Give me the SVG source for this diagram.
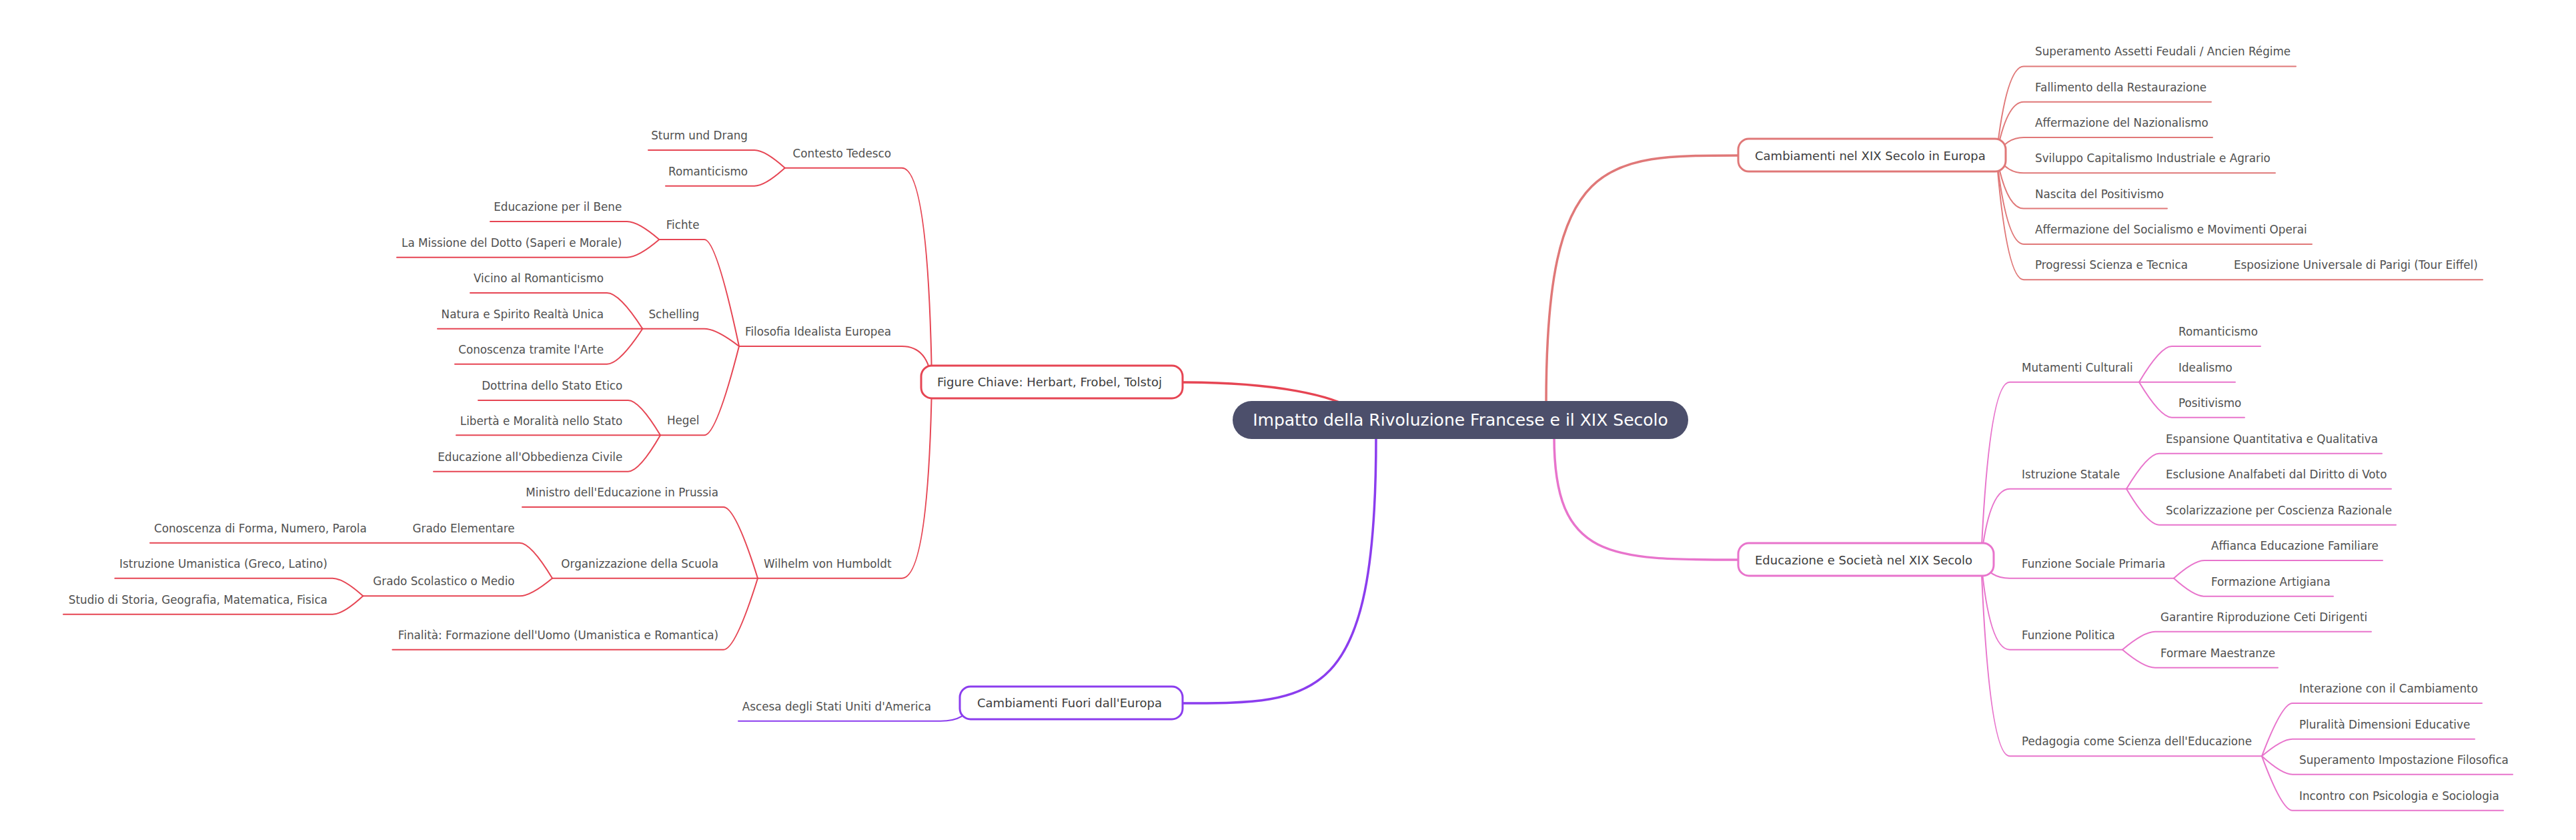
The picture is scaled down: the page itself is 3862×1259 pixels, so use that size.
<svg xmlns="http://www.w3.org/2000/svg" width="3862" height="1259" viewBox="0 0 3862 1259">
<style>
text{font-family:"DejaVu Sans","Liberation Sans",sans-serif}
.lf{font-size:16.8px;fill:#505050}
.mn{font-size:18px;fill:#3d3d3d}
.rt{font-size:25px;fill:#ffffff}
.e{fill:none;stroke-width:2;stroke-linecap:round;stroke-linejoin:round}
.m{fill:none;stroke-width:3.5;stroke-linecap:round}
.box{fill:#ffffff;stroke-width:3}
.sa{stroke:#e07878}
.rd{stroke:#e64553}
.pu{stroke:#8b3dee}
.pk{stroke:#e874cc}
</style>
<rect width="3862" height="1259" fill="#ffffff"/>
<g id="connectors">
<!-- main branches -->
<path class="m sa" d="M2318 605 C2318 233 2404 233 2606 233"/>
<path class="m rd" d="M2045 625 C2010 590 1900 573 1773 573"/>
<path class="m pu" d="M2063 655 C2063 1054 1976 1054 1774 1054"/>
<path class="m pk" d="M2330 655 C2330 839 2413 839 2606 839"/>
<!-- salmon leaves -->
<path class="e sa" d="M2993 233 Q3008 99.4 3034 99.4 H3442"/>
<path class="e sa" d="M2993 233 Q3008 152.7 3034 152.7 H3315"/>
<path class="e sa" d="M2993 233 Q3008 206 3034 206 H3317"/>
<path class="e sa" d="M2993 233 Q3008 259.3 3034 259.3 H3411"/>
<path class="e sa" d="M2993 233 Q3008 312.6 3034 312.6 H3249"/>
<path class="e sa" d="M2993 233 Q3008 365.9 3034 365.9 H3466"/>
<path class="e sa" d="M2993 233 Q3008 419.2 3034 419.2 H3722"/>
<!-- pink first level -->
<path class="e pk" d="M2970 839 Q2982 572.7 3013 572.7 H3207"/>
<path class="e pk" d="M2970 839 Q2982 732.7 3013 732.7 H3188"/>
<path class="e pk" d="M2970 839 Q2982 866.7 3013 866.7 H3259"/>
<path class="e pk" d="M2970 839 Q2982 973.7 3013 973.7 H3182"/>
<path class="e pk" d="M2970 839 Q2982 1133.3 3013 1133.3 H3391"/>
<!-- pink second level -->
<path class="e pk" d="M3207 572.7 Q3239 519 3256 519 H3389"/>
<path class="e pk" d="M3207 572.7 H3351"/>
<path class="e pk" d="M3207 572.7 Q3239 625.7 3256 625.7 H3365"/>
<path class="e pk" d="M3188 732.7 Q3220 679.7 3237 679.7 H3571"/>
<path class="e pk" d="M3188 732.7 H3585"/>
<path class="e pk" d="M3188 732.7 Q3220 786.7 3237 786.7 H3592"/>
<path class="e pk" d="M3259 866.7 Q3289 840 3305 840 H3572"/>
<path class="e pk" d="M3259 866.7 Q3289 893.7 3305 893.7 H3498"/>
<path class="e pk" d="M3182 973.7 Q3214 946.7 3231 946.7 H3555"/>
<path class="e pk" d="M3182 973.7 Q3214 1000.7 3231 1000.7 H3415"/>
<path class="e pk" d="M3391 1133.3 Q3421 1054 3437 1054 H3721"/>
<path class="e pk" d="M3391 1133.3 Q3421 1107.7 3437 1107.7 H3710"/>
<path class="e pk" d="M3391 1133.3 Q3421 1160.7 3437 1160.7 H3767"/>
<path class="e pk" d="M3391 1133.3 Q3421 1214.7 3437 1214.7 H3753"/>
<!-- red first level -->
<path class="e rd" d="M1397 572.5 Q1392 251.7 1352 251.7 H1176.7"/>
<path class="e rd" d="M1397 572.5 Q1392 519 1352 519 H1108"/>
<path class="e rd" d="M1397 572.5 Q1392 866.7 1352 866.7 H1136"/>
<!-- contesto -->
<path class="e rd" d="M1176.7 251.7 Q1147 225 1131 225 H972"/>
<path class="e rd" d="M1176.7 251.7 Q1147 278.7 1131 278.7 H998"/>
<!-- filosofia -->
<path class="e rd" d="M1108 519 Q1074 359 1056 359 H988.3"/>
<path class="e rd" d="M1108 519 Q1074 492.7 1056 492.7 H963.3"/>
<path class="e rd" d="M1108 519 Q1074 652.3 1056 652.3 H990"/>
<!-- fichte -->
<path class="e rd" d="M988.3 359 Q957 332 940 332 H735"/>
<path class="e rd" d="M988.3 359 Q957 385.7 940 385.7 H595"/>
<!-- schelling -->
<path class="e rd" d="M963.3 492.7 Q928.7 439 910 439 H705"/>
<path class="e rd" d="M963.3 492.7 H656"/>
<path class="e rd" d="M963.3 492.7 Q928.7 545.7 910 545.7 H682"/>
<!-- hegel -->
<path class="e rd" d="M990 652.3 Q958.6 600 941.7 600 H717"/>
<path class="e rd" d="M990 652.3 H684"/>
<path class="e rd" d="M990 652.3 Q958.6 706.7 941.7 706.7 H650"/>
<!-- humboldt -->
<path class="e rd" d="M1136 866.7 Q1102.6 760 1084.6 760 H783"/>
<path class="e rd" d="M1136 866.7 H828"/>
<path class="e rd" d="M1136 866.7 Q1102.6 973.7 1084.6 973.7 H588.4"/>
<!-- organizzazione -->
<path class="e rd" d="M828 866.7 Q796 813.7 779 813.7 H225"/>
<path class="e rd" d="M828 866.7 Q796 893.3 779 893.3 H544.2"/>
<!-- grado scolastico -->
<path class="e rd" d="M544.2 893.3 Q514.6 866.7 498.6 866.7 H172.3"/>
<path class="e rd" d="M544.2 893.3 Q514.6 920.7 498.6 920.7 H95"/>
<!-- purple -->
<path class="e pu" d="M1455 1053.5 Q1450 1080.7 1410 1080.7 H1107"/>
</g>
<g id="root">
<rect x="1848" y="601" width="683" height="57" rx="28.5" fill="#4c4f6b"/>
<text class="rt" x="2189.5" y="638" text-anchor="middle">Impatto della Rivoluzione Francese e il XIX Secolo</text>
</g>
<g id="n-europa">
<rect class="box sa" x="2606" y="208" width="401" height="49" rx="16"/>
<text class="mn" x="2631" y="239.5">Cambiamenti nel XIX Secolo in Europa</text>
</g>
<g id="n-europa-leaves">
<text class="lf" x="3051" y="83.4">Superamento Assetti Feudali / Ancien Régime</text>
<text class="lf" x="3051" y="136.7">Fallimento della Restaurazione</text>
<text class="lf" x="3051" y="190">Affermazione del Nazionalismo</text>
<text class="lf" x="3051" y="243.3">Sviluppo Capitalismo Industriale e Agrario</text>
<text class="lf" x="3051" y="296.6">Nascita del Positivismo</text>
<text class="lf" x="3051" y="349.9">Affermazione del Socialismo e Movimenti Operai</text>
<text class="lf" x="3051" y="403.2">Progressi Scienza e Tecnica</text>
<text class="lf" x="3349" y="403.2">Esposizione Universale di Parigi (Tour Eiffel)</text>
</g>
<g id="n-educazione">
<rect class="box pk" x="2606" y="814" width="383" height="49" rx="16"/>
<text class="mn" x="2631" y="845.5">Educazione e Società nel XIX Secolo</text>
</g>
<g id="n-educazione-children">
<text class="lf" x="3031" y="556.7">Mutamenti Culturali</text>
<text class="lf" x="3266" y="503">Romanticismo</text>
<text class="lf" x="3266" y="556.7">Idealismo</text>
<text class="lf" x="3266" y="609.7">Positivismo</text>
<text class="lf" x="3031" y="716.7">Istruzione Statale</text>
<text class="lf" x="3247" y="663.7">Espansione Quantitativa e Qualitativa</text>
<text class="lf" x="3247" y="716.7">Esclusione Analfabeti dal Diritto di Voto</text>
<text class="lf" x="3247" y="770.7">Scolarizzazione per Coscienza Razionale</text>
<text class="lf" x="3031" y="850.7">Funzione Sociale Primaria</text>
<text class="lf" x="3315" y="824">Affianca Educazione Familiare</text>
<text class="lf" x="3315" y="877.7">Formazione Artigiana</text>
<text class="lf" x="3031" y="957.7">Funzione Politica</text>
<text class="lf" x="3239" y="930.7">Garantire Riproduzione Ceti Dirigenti</text>
<text class="lf" x="3239" y="984.7">Formare Maestranze</text>
<text class="lf" x="3031" y="1117.3">Pedagogia come Scienza dell'Educazione</text>
<text class="lf" x="3447" y="1038">Interazione con il Cambiamento</text>
<text class="lf" x="3447" y="1091.7">Pluralità Dimensioni Educative</text>
<text class="lf" x="3447" y="1144.7">Superamento Impostazione Filosofica</text>
<text class="lf" x="3447" y="1198.7">Incontro con Psicologia e Sociologia</text>
</g>
<g id="n-figure">
<rect class="box rd" x="1381" y="548" width="392" height="49" rx="16"/>
<text class="mn" x="1405" y="579">Figure Chiave: Herbart, Frobel, Tolstoj</text>
</g>
<g id="n-figure-children" text-anchor="end">
<text class="lf" x="1336" y="235.7">Contesto Tedesco</text>
<text class="lf" x="1121" y="209">Sturm und Drang</text>
<text class="lf" x="1121" y="262.7">Romanticismo</text>
<text class="lf" x="1336" y="503">Filosofia Idealista Europea</text>
<text class="lf" x="1048.5" y="343">Fichte</text>
<text class="lf" x="932.3" y="316">Educazione per il Bene</text>
<text class="lf" x="932.3" y="369.7">La Missione del Dotto (Saperi e Morale)</text>
<text class="lf" x="1048.5" y="476.7">Schelling</text>
<text class="lf" x="905" y="423">Vicino al Romanticismo</text>
<text class="lf" x="905" y="476.7">Natura e Spirito Realtà Unica</text>
<text class="lf" x="905" y="529.7">Conoscenza tramite l'Arte</text>
<text class="lf" x="1048.5" y="636.3">Hegel</text>
<text class="lf" x="933.3" y="584">Dottrina dello Stato Etico</text>
<text class="lf" x="933.3" y="636.7">Libertà e Moralità nello Stato</text>
<text class="lf" x="933.3" y="690.7">Educazione all'Obbedienza Civile</text>
<text class="lf" x="1336.5" y="850.7">Wilhelm von Humboldt</text>
<text class="lf" x="1077" y="744">Ministro dell'Educazione in Prussia</text>
<text class="lf" x="1077" y="850.7">Organizzazione della Scuola</text>
<text class="lf" x="771.6" y="797.7">Grado Elementare</text>
<text class="lf" x="549.8" y="797.7">Conoscenza di Forma, Numero, Parola</text>
<text class="lf" x="771.6" y="877.3">Grado Scolastico o Medio</text>
<text class="lf" x="490.9" y="850.7">Istruzione Umanistica (Greco, Latino)</text>
<text class="lf" x="490.9" y="904.7">Studio di Storia, Geografia, Matematica, Fisica</text>
<text class="lf" x="1077" y="957.7">Finalità: Formazione dell'Uomo (Umanistica e Romantica)</text>
</g>
<g id="n-fuori">
<rect class="box pu" x="1439" y="1029" width="334" height="49" rx="16"/>
<text class="mn" x="1465" y="1060">Cambiamenti Fuori dall'Europa</text>
</g>
<g id="n-fuori-children">
<text class="lf" x="1396" y="1064.7" text-anchor="end">Ascesa degli Stati Uniti d'America</text>
</g>
</svg>
